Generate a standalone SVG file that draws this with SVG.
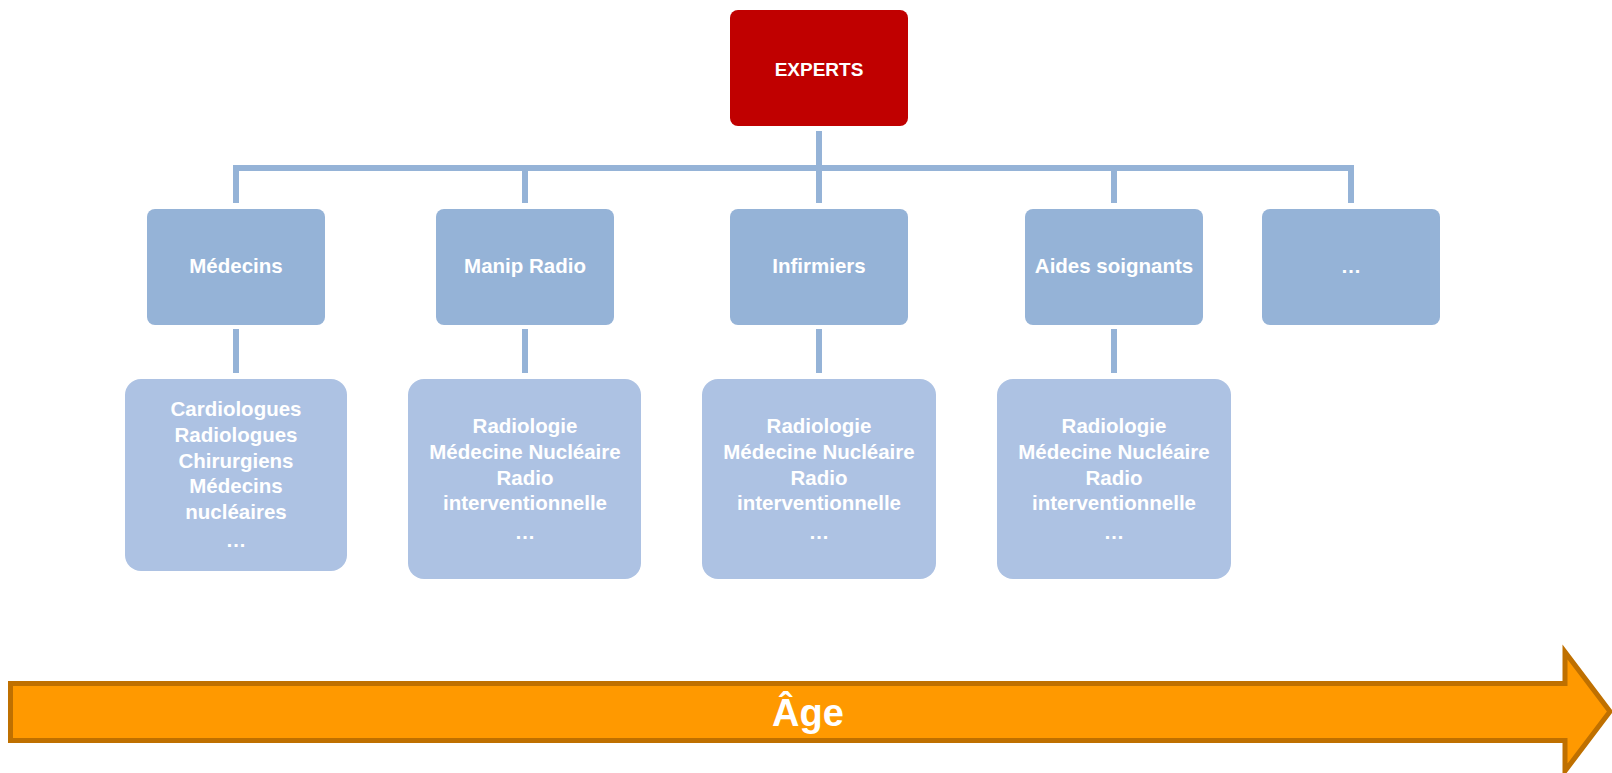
<svg xmlns="http://www.w3.org/2000/svg" width="1612" height="773" viewBox="0 0 1612 773">
<style>
text{font-family:"Liberation Sans",Arial,sans-serif;font-weight:bold;fill:#FFFFFF;text-anchor:middle}
.l2{fill:#95B3D7}
.l3{fill:#ADC2E3}
.t2{font-size:20.5px}
.t3{font-size:20.5px}
.conn{stroke:#95B3D7;stroke-width:6;fill:none}
</style>
<rect width="1612" height="773" fill="#FFFFFF"/>
<g id="connectors">
<line class="conn" x1="819" y1="131" x2="819" y2="203"/>
<polyline class="conn" points="236,203 236,168 1351,168 1351,203"/>
<line class="conn" x1="525" y1="168" x2="525" y2="203"/>
<line class="conn" x1="1114" y1="168" x2="1114" y2="203"/>
<line class="conn" x1="236" y1="329" x2="236" y2="373"/>
<line class="conn" x1="525" y1="329" x2="525" y2="373"/>
<line class="conn" x1="819" y1="329" x2="819" y2="373"/>
<line class="conn" x1="1114" y1="329" x2="1114" y2="373"/>
</g>
<g id="experts">
<rect x="730" y="10" width="178" height="116" rx="8" fill="#C00000"/>
<text x="819" y="76" style="font-size:19px">EXPERTS</text>
</g>
<g id="medecins">
<rect class="l2" x="147" y="209" width="178" height="116" rx="8"/>
<text class="t2" x="236" y="273">Médecins</text>
</g>
<g id="manip-radio">
<rect class="l2" x="436" y="209" width="178" height="116" rx="8"/>
<text class="t2" x="525" y="273">Manip Radio</text>
</g>
<g id="infirmiers">
<rect class="l2" x="730" y="209" width="178" height="116" rx="8"/>
<text class="t2" x="819" y="273">Infirmiers</text>
</g>
<g id="aides-soignants">
<rect class="l2" x="1025" y="209" width="178" height="116" rx="8"/>
<text class="t2" x="1114" y="273">Aides soignants</text>
</g>
<g id="autres">
<rect class="l2" x="1262" y="209" width="178" height="116" rx="8"/>
<text class="t2" x="1351" y="273">…</text>
</g>
<g id="medecins-detail">
<rect class="l3" x="125" y="379" width="222" height="192" rx="16"/>
<text class="t3" x="236" y="416">Cardiologues</text>
<text class="t3" x="236" y="442">Radiologues</text>
<text class="t3" x="236" y="468">Chirurgiens</text>
<text class="t3" x="236" y="493">Médecins</text>
<text class="t3" x="236" y="519">nucléaires</text>
<text class="t3" x="236" y="547">…</text>
</g>
<g id="manip-detail">
<rect class="l3" x="408" y="379" width="233" height="200" rx="16"/>
<text class="t3" x="525" y="433">Radiologie</text>
<text class="t3" x="525" y="459">Médecine Nucléaire</text>
<text class="t3" x="525" y="485">Radio</text>
<text class="t3" x="525" y="510">interventionnelle</text>
<text class="t3" x="525" y="539">…</text>
</g>
<g id="infirmiers-detail">
<rect class="l3" x="702" y="379" width="234" height="200" rx="16"/>
<text class="t3" x="819" y="433">Radiologie</text>
<text class="t3" x="819" y="459">Médecine Nucléaire</text>
<text class="t3" x="819" y="485">Radio</text>
<text class="t3" x="819" y="510">interventionnelle</text>
<text class="t3" x="819" y="539">…</text>
</g>
<g id="aides-detail">
<rect class="l3" x="997" y="379" width="234" height="200" rx="16"/>
<text class="t3" x="1114" y="433">Radiologie</text>
<text class="t3" x="1114" y="459">Médecine Nucléaire</text>
<text class="t3" x="1114" y="485">Radio</text>
<text class="t3" x="1114" y="510">interventionnelle</text>
<text class="t3" x="1114" y="539">…</text>
</g>
<g id="age-arrow">
<polygon points="10.5,683.5 1565,683.5 1565,652 1610,711.5 1565,771 1565,740.5 10.5,740.5" fill="#FF9900" stroke="#BF7000" stroke-width="5" stroke-linejoin="miter"/>
<text x="808" y="726" style="font-size:38px">Âge</text>
</g>
</svg>
